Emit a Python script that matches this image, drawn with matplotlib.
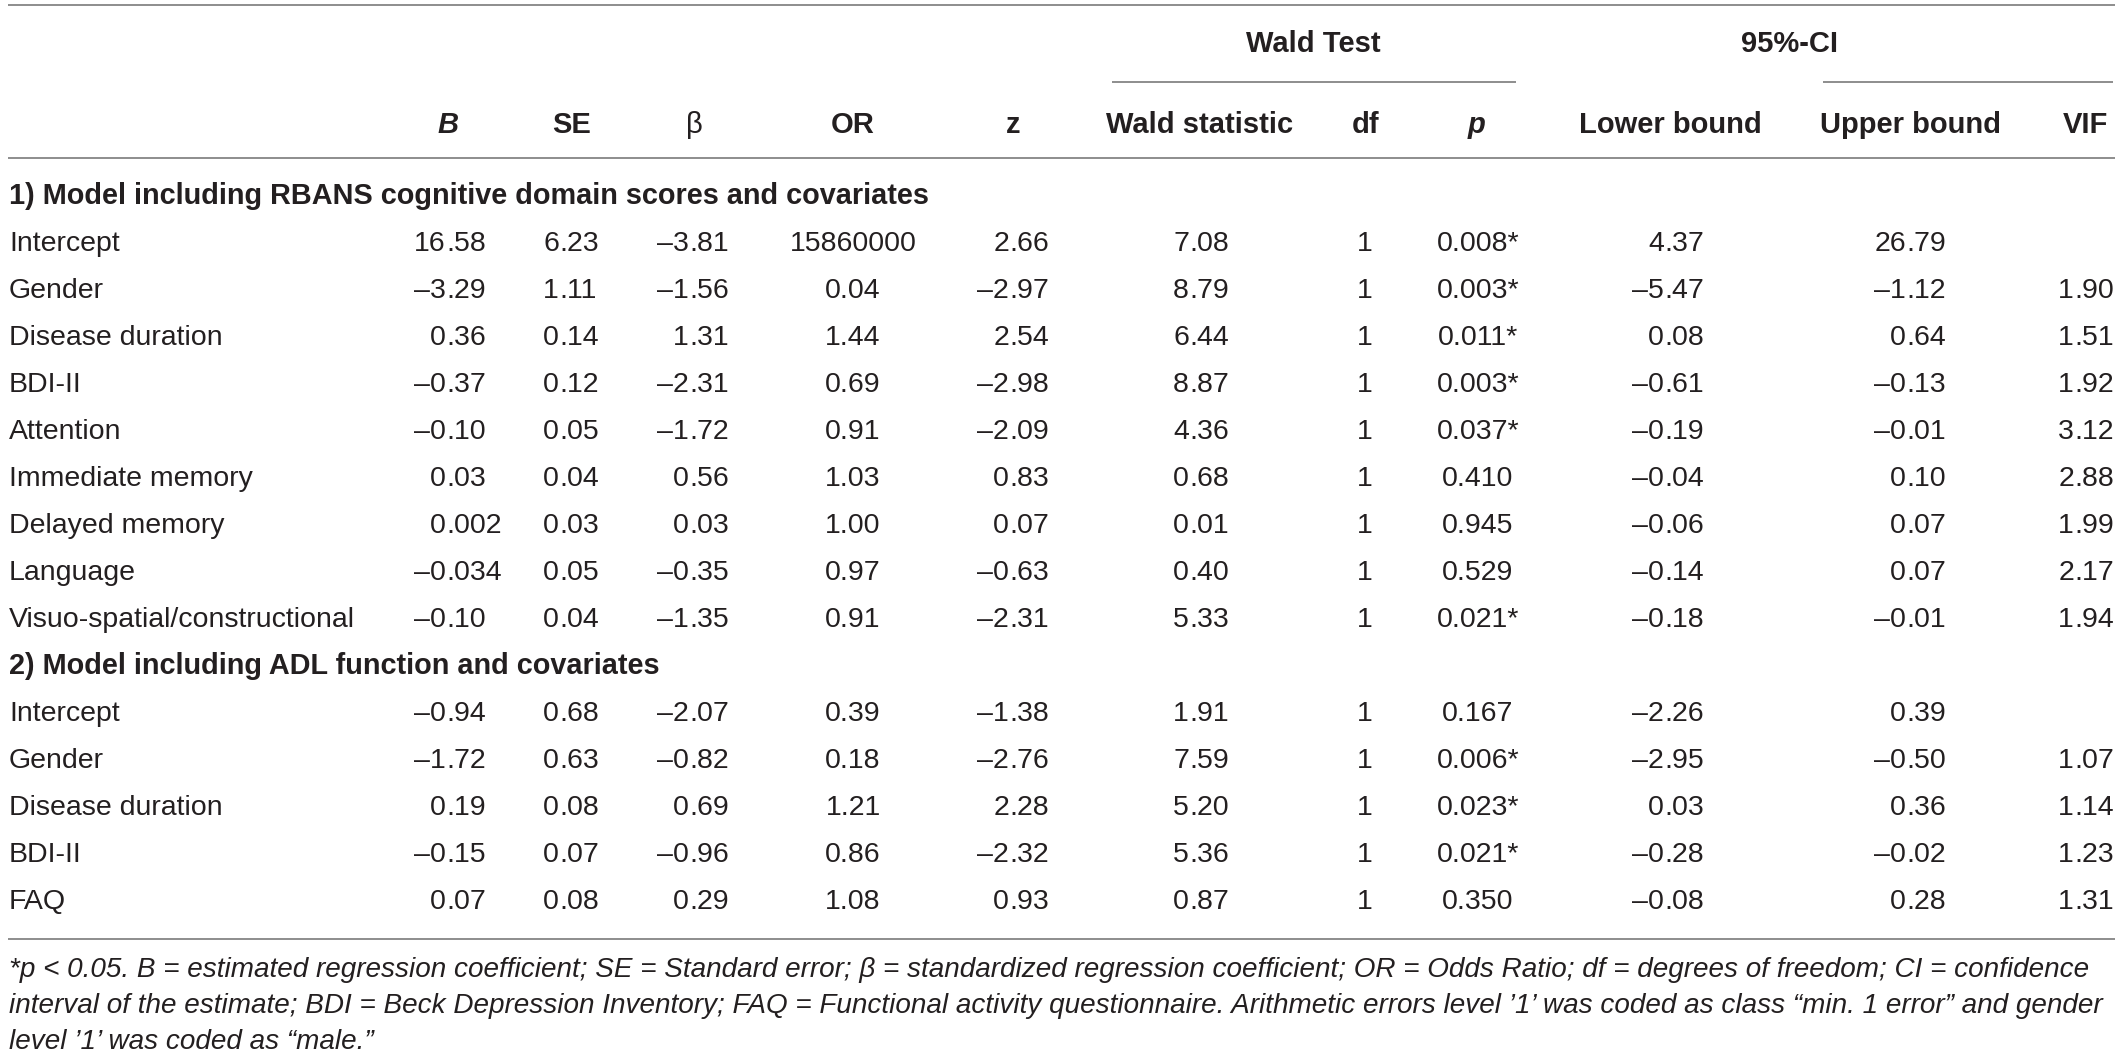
import matplotlib
matplotlib.use('Agg')
import matplotlib.pyplot as plt

plt.rcParams['font.family'] = ['Liberation Sans', 'DejaVu Sans']

# table content
row_labels = ['Intercept', 'Gender', 'Disease duration', 'BDI-II', 'Attention',
              'Immediate memory', 'Delayed memory', 'Language',
              'Visuo-spatial/constructional',
              'Intercept', 'Gender', 'Disease duration', 'BDI-II', 'FAQ']
sections = ['1) Model including RBANS cognitive domain scores and covariates',
            '2) Model including ADL function and covariates']
col_B = ['16.58', '–3.29', '0.36', '–0.37', '–0.10', '0.03', '0.002', '–0.034', '–0.10',
         '–0.94', '–1.72', '0.19', '–0.15', '0.07']
col_SE = ['6.23', '1.11', '0.14', '0.12', '0.05', '0.04', '0.03', '0.05', '0.04',
          '0.68', '0.63', '0.08', '0.07', '0.08']
col_beta = ['–3.81', '–1.56', '1.31', '–2.31', '–1.72', '0.56', '0.03', '–0.35', '–1.35',
            '–2.07', '–0.82', '0.69', '–0.96', '0.29']
col_OR = ['15860000', '0.04', '1.44', '0.69', '0.91', '1.03', '1.00', '0.97', '0.91',
          '0.39', '0.18', '1.21', '0.86', '1.08']
col_z = ['2.66', '–2.97', '2.54', '–2.98', '–2.09', '0.83', '0.07', '–0.63', '–2.31',
         '–1.38', '–2.76', '2.28', '–2.32', '0.93']
col_wald = ['7.08', '8.79', '6.44', '8.87', '4.36', '0.68', '0.01', '0.40', '5.33',
            '1.91', '7.59', '5.20', '5.36', '0.87']
col_df = ['1'] * 14
col_p = ['0.008*', '0.003*', '0.011*', '0.003*', '0.037*', '0.410', '0.945', '0.529', '0.021*',
         '0.167', '0.006*', '0.023*', '0.021*', '0.350']
col_lower = ['4.37', '–5.47', '0.08', '–0.61', '–0.19', '–0.04', '–0.06', '–0.14', '–0.18',
             '–2.26', '–2.95', '0.03', '–0.28', '–0.08']
col_upper = ['26.79', '–1.12', '0.64', '–0.13', '–0.01', '0.10', '0.07', '0.07', '–0.01',
             '0.39', '–0.50', '0.36', '–0.02', '0.28']
col_vif = ['', '1.90', '1.51', '1.92', '3.12', '2.88', '1.99', '2.17', '1.94',
           '', '1.07', '1.14', '1.23', '1.31']

headers = ['B', 'SE', 'β', 'OR', 'z', 'Wald statistic', 'df', 'p',
           'Lower bound', 'Upper bound', 'VIF']
footnote = [
    '*p < 0.05. B = estimated regression coefficient; SE = Standard error; β = standardized '
    'regression coefficient; OR = Odds Ratio; df = degrees of freedom; CI = confidence',
    'interval of the estimate; BDI = Beck Depression Inventory; FAQ = Functional activity '
    'questionnaire. Arithmetic errors level ’1’ was coded as class “min. 1 error” and gender',
    'level ’1’ was coded as “male.”',
]

TXT = '#231f20'
LINE = '#7a7a7a'
FS = 20.5      # body
FS_HDR = 21    # bold column headers
FS_SEC = 20.8  # section headers
FS_NOTE = 20.1

fig = plt.figure(figsize=(21.22, 10.58), dpi=100)
ax = fig.add_axes([0, 0, 1, 1])
ax.set_xlim(0, 2122)
ax.set_ylim(1058, 0)
ax.axis('off')


def hline(y, x0=8, x1=2115):
    ax.plot([x0, x1], [y, y], color=LINE, lw=1.2, solid_capstyle='butt')


def dec_text(xdot, y, s):
    # align numbers on the decimal point
    if '.' in s:
        i = s.index('.')
        ax.text(xdot, y, s[:i], ha='right', va='baseline', fontsize=FS, color=TXT)
        ax.text(xdot, y, s[i:], ha='left', va='baseline', fontsize=FS, color=TXT)
    else:
        ax.text(xdot, y, s, ha='right', va='baseline', fontsize=FS, color=TXT)


# rules
hline(5)
hline(158)
hline(939)
hline(82, 1112, 1516)
hline(82, 1823, 2113)

# group headers
ax.text(1313, 52, 'Wald Test', ha='center', va='baseline', fontsize=FS_HDR, fontweight='bold', color=TXT)
ax.text(1789, 52, '95%-CI', ha='center', va='baseline', fontsize=FS_HDR, fontweight='bold', color=TXT)

# column headers
hdr_x = [448, 572, 694, 853, 1013, 1200, 1366, 1477, 1670, 1910, 2085]
for h, x in zip(headers, hdr_x):
    style = 'italic' if h in ('B', 'p') else 'normal'
    weight = 'normal' if h == 'β' else 'bold'
    ax.text(x, 133, h, ha='center', va='baseline', fontsize=FS_HDR, fontweight=weight,
            fontstyle=style, color=TXT)

# body
dec_cols = [(col_B, 446), (col_SE, 559), (col_beta, 689), (col_z, 1009),
            (col_wald, 1189), (col_lower, 1664), (col_upper, 1906), (col_vif, 2074)]
center_cols = [(col_OR, 853), (col_df, 1365), (col_p, 1478)]

base = 204
step = 47
line_i = 0
for r, lab in enumerate(row_labels):
    if r == 0 or r == 9:
        ax.text(9, base + step * line_i, sections[0 if r == 0 else 1], ha='left', va='baseline',
                fontsize=FS_SEC, fontweight='bold', color=TXT)
        line_i += 1
    y = base + step * line_i
    ax.text(9, y, lab, ha='left', va='baseline', fontsize=FS, color=TXT)
    for col, xd in dec_cols:
        if col[r]:
            dec_text(xd, y, col[r])
    for col, xc in center_cols:
        ax.text(xc, y, col[r], ha='center', va='baseline', fontsize=FS, color=TXT)
    line_i += 1

# footnote
for k, t in enumerate(footnote):
    ax.text(9, 977 + 36 * k, t, ha='left', va='baseline', fontsize=FS_NOTE,
            fontstyle='italic', color=TXT)

fig.savefig('out.png', dpi=100)
